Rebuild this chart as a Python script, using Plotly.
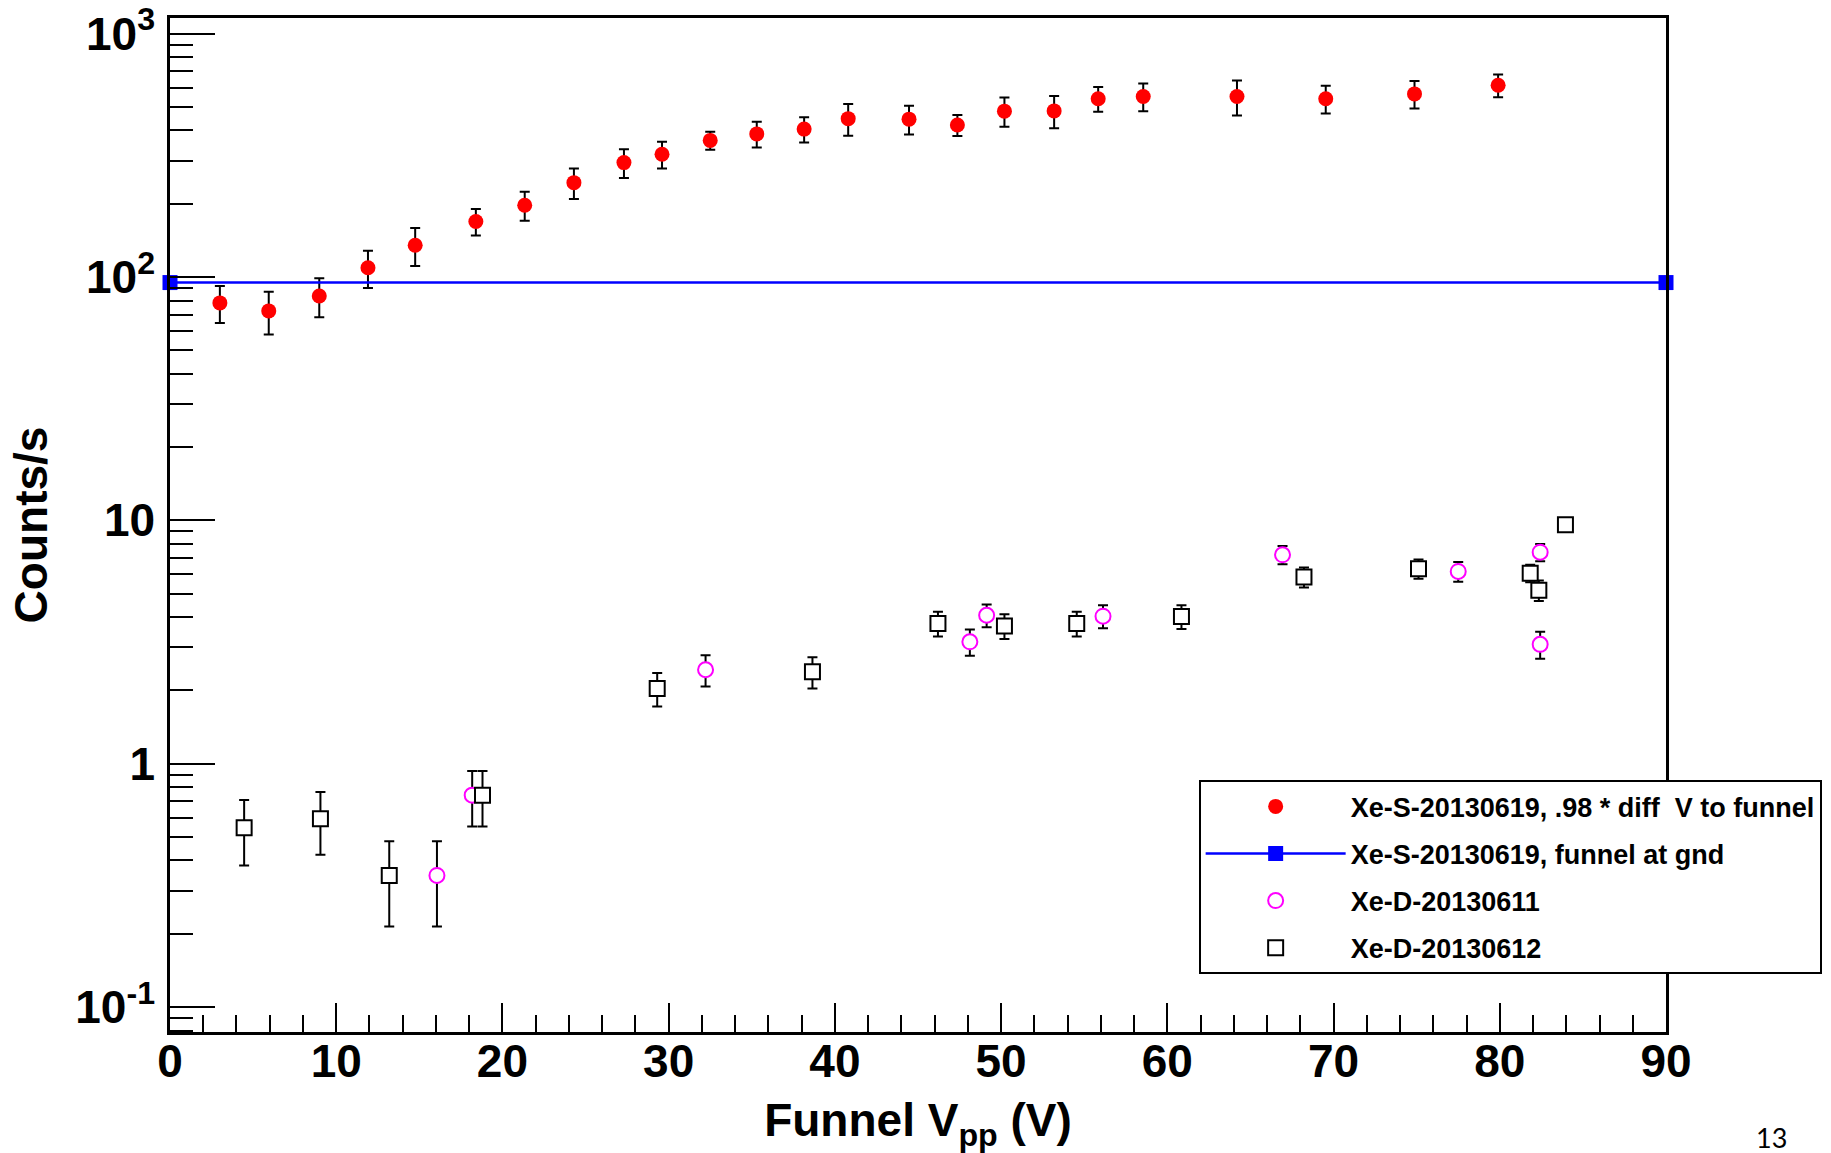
import plotly.graph_objects as go

# Xe-S-20130619, .98 * diff V to funnel
red_x = [3.0, 5.94, 8.98, 11.91, 14.75, 18.4, 21.34, 24.3, 27.31, 29.6, 32.5, 35.3,
         38.15, 40.8, 44.46, 47.37, 50.2, 53.19, 55.84, 58.55, 64.19, 69.53, 74.87, 79.9]
red_y = [78.2, 72.5, 83.5, 109, 135, 169, 197, 244, 295, 319, 364, 387,
         405, 447, 445, 421, 480, 481, 540, 551, 551, 540, 565, 613]
red_err = [13.5, 14.5, 15.3, 19, 24, 21, 27, 35, 40, 40, 31, 47,
           48, 67, 60, 42, 66, 73, 63, 72, 90, 71, 73, 66]

# Xe-S-20130619, funnel at gnd
blue_x = [0, 90]
blue_y = [94.8, 94.8]

# Xe-D-20130611
mag_x = [16.06, 18.18, 32.22, 48.12, 49.13, 56.13, 66.93, 77.5, 82.43, 82.43]
mag_y = [0.347, 0.742, 2.43, 3.166, 4.07, 4.036, 7.21, 6.16, 7.39, 3.09]
mag_err = [0.133, 0.19, 0.355, 0.39, 0.44, 0.44, 0.62, 0.57, 0.6, 0.39]

# Xe-D-20130612
blk_x = [4.46, 9.05, 13.19, 18.8, 29.31, 38.65, 46.2, 50.2, 54.55, 60.85, 68.22, 75.11, 81.83, 82.35, 83.95]
blk_y = [0.545, 0.593, 0.347, 0.742, 2.037, 2.384, 3.767, 3.68, 3.767, 4.025, 5.84, 6.32, 6.06, 5.16, 9.58]
blk_err = [0.164, 0.171, 0.133, 0.19, 0.32, 0.35, 0.44, 0.43, 0.44, 0.45, 0.55, 0.57, 0.5, 0.5, 0.5]

y_tickvals = [0.1, 1, 10, 100, 1000]
y_ticktext = ["10<sup>-1</sup>", "1", "10", "10<sup>2</sup>", "10<sup>3</sup>"]
x_tickvals = [0, 10, 20, 30, 40, 50, 60, 70, 80, 90]

FONT = "Liberation Sans, Arial, Helvetica, sans-serif"

def ebar(arr):
    return dict(type="data", array=arr, visible=True, color="black", thickness=2, width=5)

fig = go.Figure()
fig.add_trace(go.Scatter(
    x=red_x, y=red_y, mode="markers", error_y=ebar(red_err),
    marker=dict(symbol="circle", size=15, color="#ff0000"),
    name="Xe-S-20130619, .98 * diff  V to funnel", legendgroup="a"))
fig.add_trace(go.Scatter(
    x=blue_x, y=blue_y, mode="lines+markers", cliponaxis=False,
    line=dict(color="#0000ff", width=2.5),
    marker=dict(symbol="square", size=15, color="#0000ff"),
    name="Xe-S-20130619, funnel at gnd", legendgroup="b"))
fig.add_trace(go.Scatter(
    x=mag_x, y=mag_y, mode="markers", error_y=ebar(mag_err),
    marker=dict(symbol="circle", size=15, color="white", line=dict(color="#ff00ff", width=2)),
    name="Xe-D-20130611", legendgroup="c"))
fig.add_trace(go.Scatter(
    x=blk_x, y=blk_y, mode="markers", error_y=ebar(blk_err),
    marker=dict(symbol="square", size=15, color="white", line=dict(color="black", width=2)),
    name="Xe-D-20130612", legendgroup="d"))

fig.update_layout(
    width=1831, height=1153,
    margin=dict(l=170, r=164.5, t=17.7, b=121.3, autoexpand=False),
    paper_bgcolor="white", plot_bgcolor="white",
    font=dict(family=FONT, color="black", size=27, weight="bold"),
    showlegend=True,
    legend=dict(
        x=0.6876, y=0.2482, xanchor="left", yanchor="top",
        bgcolor="white", bordercolor="black", borderwidth=2,
        font=dict(family=FONT, size=27, color="black", weight="bold"),
        traceorder="grouped", tracegroupgap=9, itemwidth=140),
    xaxis=dict(
        range=[0, 90], tickmode="array", tickvals=x_tickvals,
        ticks="inside", ticklen=29, tickwidth=2, tickcolor="black",
        minor=dict(dtick=2, ticks="inside", ticklen=17, tickwidth=2, tickcolor="black"),
        showgrid=False, zeroline=False,
        showline=True, linecolor="black", linewidth=2.5, mirror=True,
        tickfont=dict(family=FONT, size=46, weight="bold"),
        ticklabelstandoff=-13,
        title=dict(text="Funnel V<sub>pp</sub> (V)", standoff=24,
                   font=dict(family=FONT, size=46, weight="bold")),
    ),
    yaxis=dict(
        type="log", range=[-1.103, 3.064], tickmode="array",
        tickvals=y_tickvals, ticktext=y_ticktext,
        ticks="inside", ticklen=45, tickwidth=2, tickcolor="black",
        minor=dict(dtick="D1", ticks="inside", ticklen=23, tickwidth=2, tickcolor="black"),
        showgrid=False, zeroline=False,
        showline=True, linecolor="black", linewidth=2.5, mirror=True,
        tickfont=dict(family=FONT, size=46, weight="bold"),
        ticklabelstandoff=3,
        title=dict(text="Counts/s", standoff=14,
                   font=dict(family=FONT, size=46, weight="bold")),
    ),
)

fig.add_annotation(
    x=1.0825, y=-0.1221, xref="paper", yref="paper", text="13", showarrow=False,
    font=dict(family="Lato, Open Sans, sans-serif", size=27, color="black", weight="normal"))

fig.write_html("out.html")
